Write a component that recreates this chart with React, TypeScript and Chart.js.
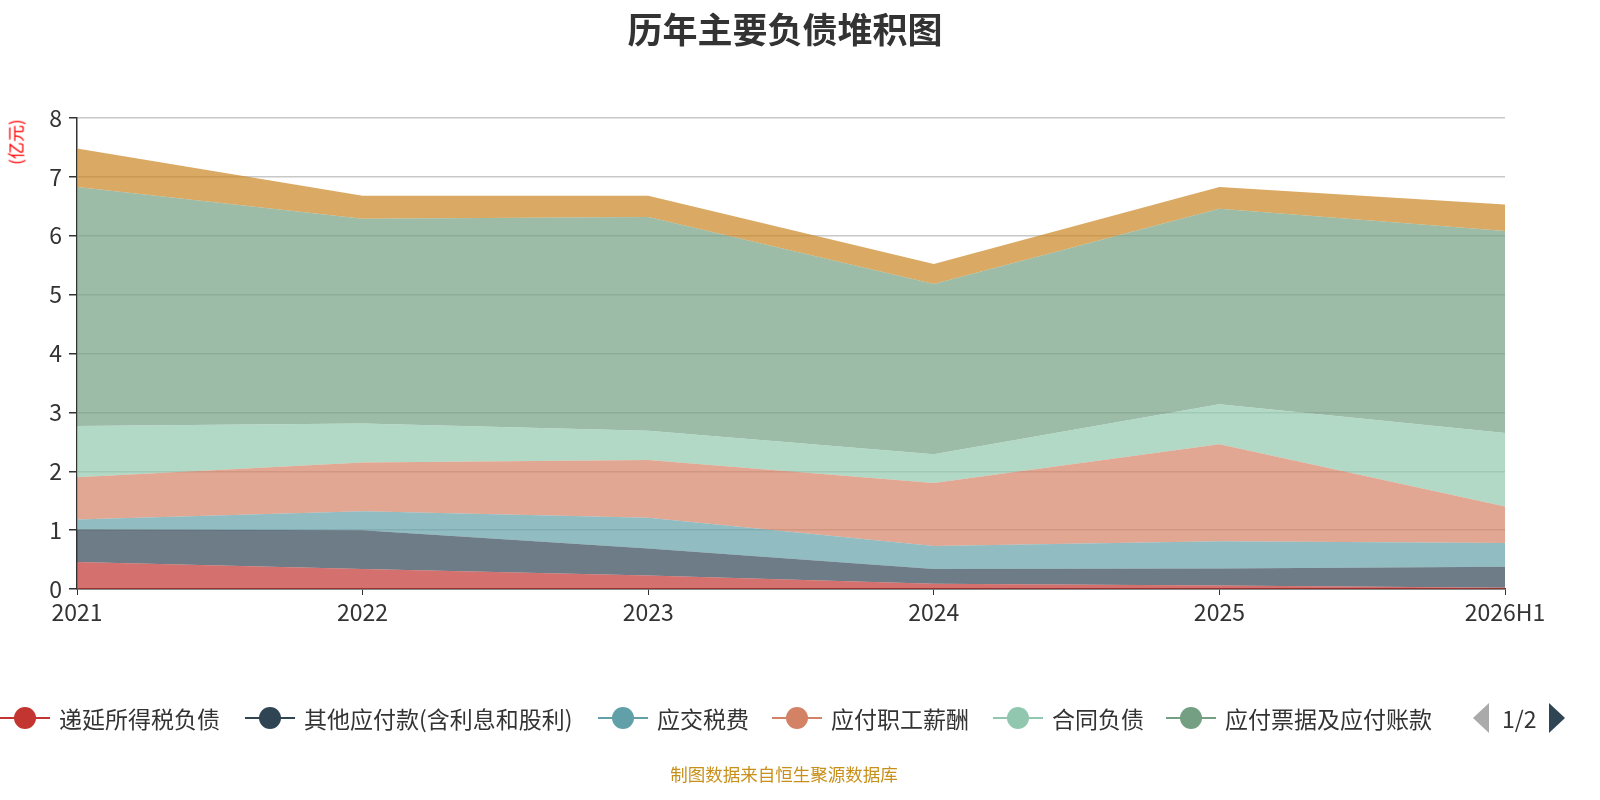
import { useEffect, useRef } from 'react';
import { Chart, registerables } from 'chart.js';

Chart.register(...registerables);

const years = ['2021', '2022', '2023', '2024', '2025', '2026H1'];

// 亿元
const deferredTax   = [0.46, 0.34, 0.23, 0.09, 0.06, 0.02];
const otherPayables = [0.55, 0.66, 0.46, 0.25, 0.29, 0.36];
const taxesPayable  = [0.17, 0.32, 0.52, 0.39, 0.46, 0.40];
const payroll       = [0.72, 0.83, 0.98, 1.07, 1.65, 0.62];
const contractLiab  = [0.87, 0.66, 0.50, 0.49, 0.68, 1.25];
const notesAccounts = [4.06, 3.48, 3.63, 2.89, 3.32, 3.43];
const shortLoans    = [0.65, 0.39, 0.36, 0.34, 0.37, 0.45];

const seriesNames = [
  '递延所得税负债',
  '其他应付款(含利息和股利)',
  '应交税费',
  '应付职工薪酬',
  '合同负债',
  '应付票据及应付账款',
  '短期借款',
];
const seriesColors = ['#c23531', '#2f4554', '#61a0a8', '#d48265', '#91c7ae', '#749f83', '#ca8622'];
const seriesValues = [deferredTax, otherPayables, taxesPayable, payroll, contractLiab, notesAccounts, shortLoans];

const yTicks = [0, 1, 2, 3, 4, 5, 6, 7, 8];

const FONT = '"Noto Sans CJK SC", "Noto Sans", sans-serif';

const hexA = (hex: string, a: number) => {
  const n = parseInt(hex.slice(1), 16);
  return `rgba(${(n >> 16) & 255},${(n >> 8) & 255},${n & 255},${a})`;
};

// left edge of each legend item on page 1
const legendLeft = [0, 245, 598, 772, 993, 1166];

export default function App() {
  const canvasRef = useRef<HTMLCanvasElement>(null);
  const chartRef  = useRef<Chart | null>(null);

  useEffect(() => {
    document.body.style.margin = '0';
    document.body.style.overflow = 'hidden';
    if (!canvasRef.current) return;
    if (chartRef.current) { chartRef.current.destroy(); chartRef.current = null; }

    chartRef.current = new Chart(canvasRef.current, {
      type: 'line',
      data: {
        labels: years,
        datasets: seriesValues.map((vals, i) => ({
          label:           seriesNames[i],
          data:            vals,
          backgroundColor: hexA(seriesColors[i], 0.7),
          borderColor:     'transparent',
          borderWidth:     0,
          pointRadius:     0,
          tension:         0,
          fill:            i === 0 ? 'origin' : '-1',
        })),
      },
      options: {
        animation:           false,
        responsive:          true,
        maintainAspectRatio: false,
        layout: { padding: { left: 0, top: 118, right: 95, bottom: 171 } },
        plugins: {
          legend:  { display: false },
          title:   { display: false },
          tooltip: { enabled: false },
        },
        scales: {
          x: {
            offset: false,
            grid:   { drawOnChartArea: false, drawTicks: true, tickLength: 6, color: '#333' },
            border: { color: '#333', width: 1.5 },
            ticks:  { color: '#333', font: { size: 23, family: FONT }, padding: 3, maxRotation: 0, autoSkip: false },
            afterFit: (s: any) => { s.height = 40; },
          },
          y: {
            stacked: true,
            min:     yTicks[0],
            max:     yTicks[yTicks.length - 1],
            grid:    { color: '#c8c8c8', lineWidth: 1.5, tickLength: 8, tickColor: '#333' },
            border:  { color: '#333', width: 1.5 },
            ticks:   { stepSize: 1, color: '#333', font: { size: 23, family: FONT }, padding: 7 },
            afterFit: (s: any) => { s.width = 77; },
          },
        },
      },
    });

    return () => { chartRef.current?.destroy(); chartRef.current = null; };
  }, []);

  return (
    <div style={{ position: 'relative', width: 1600, height: 800, fontFamily: FONT, background: '#fff', overflow: 'hidden' }}>
      <canvas ref={canvasRef} style={{ position: 'absolute', left: 0, top: 0 }} />

      <div style={{ position: 'absolute', top: 2, left: 0, width: 1570, textAlign: 'center', fontSize: 35, fontWeight: 'bold', color: '#333' }}>
        历年主要负债堆积图
      </div>

      <div style={{
        position: 'absolute', left: 15, top: 142, transform: 'translate(-50%,-50%) rotate(-90deg)',
        color: '#ff0000', fontSize: 17, whiteSpace: 'nowrap',
      }}>
        (亿元)
      </div>

      {seriesNames.slice(0, 6).map((name, i) => (
        <div key={name} style={{ position: 'absolute', left: legendLeft[i], top: 702, height: 32, display: 'flex', alignItems: 'center', whiteSpace: 'nowrap' }}>
          <div style={{ position: 'relative', width: 50, height: 32 }}>
            <div style={{ position: 'absolute', left: 0, right: 0, top: 15, height: 2, background: seriesColors[i] }} />
            <div style={{ position: 'absolute', left: 14, top: 5, width: 22, height: 22, borderRadius: '50%', background: seriesColors[i] }} />
          </div>
          <span style={{ marginLeft: 9, fontSize: 23, color: '#333' }}>{name}</span>
        </div>
      ))}

      <div style={{ position: 'absolute', left: 1473, top: 702, height: 32, display: 'flex', alignItems: 'center' }}>
        <div style={{ width: 0, height: 0, borderTop: '15px solid transparent', borderBottom: '15px solid transparent', borderRight: '16px solid #aaa' }} />
        <span style={{ marginLeft: 13, marginRight: 12, fontSize: 23, color: '#333' }}>1/2</span>
        <div style={{ width: 0, height: 0, borderTop: '15px solid transparent', borderBottom: '15px solid transparent', borderLeft: '16px solid #2f4554' }} />
      </div>

      <div style={{ position: 'absolute', top: 761, left: 0, width: 1568, textAlign: 'center', fontSize: 17.5, color: '#c8901a' }}>
        制图数据来自恒生聚源数据库
      </div>
    </div>
  );
}
